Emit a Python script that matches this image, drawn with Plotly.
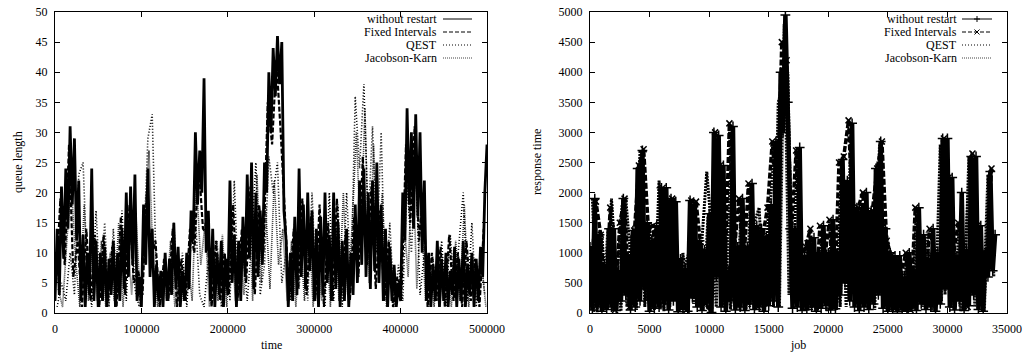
import numpy as np
import plotly.graph_objects as go

# ---------------- left panel: queue length vs time ----------------
q_time_a = np.arange(0, 500001, 2500)          # without restart sampling
q_without = [2, 14, 3, 21, 9, 24, 14, 31, 18, 29, 12, 22, 2, 13, 1, 10, 3, 24, 2, 12,
             1, 10, 2, 11, 1, 9, 3, 12, 1, 10, 2, 14, 4, 20, 6, 21, 8, 23, 2, 6,
             1, 18, 8, 24, 6, 14, 1, 8, 2, 7, 1, 10, 2, 9, 3, 15, 4, 11, 1, 7,
             2, 10, 4, 17, 12, 30, 18, 27, 20, 39, 10, 17, 2, 14, 1, 10, 3, 12, 1, 9,
             3, 22, 5, 13, 1, 12, 2, 16, 6, 23, 9, 25, 4, 20, 6, 17, 8, 25, 20, 40,
             30, 44, 36, 46, 38, 45, 17, 12, 1, 10, 2, 16, 3, 24, 6, 18, 4, 20, 7, 17,
             2, 14, 1, 16, 3, 20, 5, 13, 2, 20, 4, 15, 1, 12, 2, 14, 1, 10, 3, 18,
             5, 22, 8, 24, 6, 20, 4, 22, 7, 25, 5, 18, 2, 14, 1, 11, 2, 8, 1, 5,
             2, 20, 12, 34, 18, 30, 14, 33, 16, 30, 10, 22, 2, 10, 1, 8, 2, 12, 1, 9,
             2, 10, 1, 7, 3, 11, 1, 9, 2, 12, 1, 8, 3, 10, 1, 9, 2, 11, 6, 20, 28]
q_time_b = np.arange(1250, 500000, 5000)
q_fixed = [5, 19, 8, 28, 6, 12, 1, 14, 2, 13, 1, 13, 2, 11, 1, 16, 3, 18, 5, 7,
           3, 20, 9, 12, 1, 9, 2, 14, 1, 9, 2, 14, 10, 25, 14, 13, 1, 12, 2, 10,
           3, 18, 2, 14, 5, 21, 3, 18, 10, 35, 28, 42, 30, 15, 2, 14, 4, 19, 3, 16,
           2, 18, 1, 15, 2, 19, 3, 13, 2, 16, 6, 26, 8, 21, 4, 17, 2, 12, 1, 6,
           4, 28, 15, 31, 12, 20, 1, 10, 2, 11, 1, 13, 2, 10, 1, 12, 2, 9, 1, 14]
q_time_c = np.arange(2500, 500000, 5000)
q_qest = [1, 5, 2, 10, 3, 23, 25, 6, 1, 17, 3, 15, 1, 14, 3, 17, 2, 18, 4, 1,
          10, 29, 33, 5, 2, 8, 3, 15, 2, 10, 1, 12, 16, 3, 1, 9, 2, 12, 1, 9,
          2, 22, 3, 10, 2, 12, 25, 3, 8, 26, 20, 25, 5, 10, 2, 15, 4, 17, 2, 20,
          3, 12, 1, 20, 2, 18, 1, 20, 5, 36, 24, 38, 15, 31, 10, 30, 3, 15, 1, 8,
          2, 22, 10, 25, 3, 10, 1, 9, 2, 12, 1, 13, 3, 11, 20, 2, 15, 1, 10, 3]
q_time_d = np.arange(3750, 500000, 5000)
q_jk = [4, 1, 12, 22, 9, 1, 18, 2, 13, 2, 12, 1, 10, 2, 15, 1, 13, 3, 16, 2,
        14, 27, 8, 1, 7, 2, 12, 1, 8, 2, 9, 2, 22, 8, 15, 1, 10, 2, 13, 1,
        15, 2, 12, 3, 20, 2, 23, 5, 18, 4, 22, 8, 14, 2, 12, 1, 13, 2, 15, 1,
        10, 2, 14, 1, 16, 2, 20, 3, 14, 30, 12, 34, 5, 28, 8, 20, 1, 9, 2, 4,
        16, 6, 28, 4, 18, 2, 8, 1, 10, 2, 8, 1, 12, 2, 18, 1, 9, 2, 8, 1]

# ---------------- right panel: response time vs job ----------------
r_job_a = np.arange(0, 34001, 200)
r_without = [1100, 50, 1900, 100, 1300, 30, 800, 60, 1400, 100, 1400, 40, 700, 200, 1900, 300, 950, 50, 1370, 100,
             2400, 200, 2700, 400, 1500, 30, 1200, 80, 1450, 100, 2080, 150, 2080, 50, 1900, 200, 1850, 20, 900, 60,
             740, 30, 1870, 250, 1800, 100, 1200, 40, 1050, 150, 1650, 10, 3000, 600, 2950, 100, 2450, 30, 700, 200,
             3100, 50, 1100, 100, 1900, 40, 1100, 150, 2150, 60, 1450, 100, 1400, 30, 1280, 120, 1800, 200, 2850, 100,
             4000, 3000, 4950, 3500, 1400, 80, 1400, 100, 2750, 40, 950, 60, 1200, 100, 1250, 30, 1000, 80, 1450, 120,
             1000, 50, 1550, 70, 1000, 300, 2550, 500, 2200, 200, 3150, 100, 1750, 40, 1750, 100, 2000, 60, 1700, 150,
             2400, 300, 2850, 80, 1400, 30, 1000, 60, 950, 20, 950, 50, 600, 30, 1000, 100, 700, 40, 1750, 150,
             1300, 60, 900, 100, 1400, 30, 1000, 150, 2900, 400, 2900, 100, 2250, 50, 950, 200, 2000, 40, 1050, 120,
             2600, 300, 2600, 60, 1450, 30, 1000, 600, 2350, 700, 1300]
r_job_b = np.arange(100, 34000, 400)
r_fixed = [600, 1850, 1300, 200, 1750, 50, 1500, 1900, 100, 1370, 2450, 2720, 1400, 1450, 200, 2080, 1000, 1900, 600, 700,
           50, 1870, 1850, 1100, 150, 40, 3000, 2450, 500, 3150, 1000, 1900, 800, 2150, 1200, 100, 1280, 1750, 2850, 1800,
           4500, 4200, 1300, 2700, 900, 1100, 1400, 150, 1450, 900, 1550, 100, 2500, 2600, 3200, 1300, 1750, 2000, 200, 1700,
           2400, 2850, 1200, 950, 100, 600, 1000, 50, 1750, 1250, 300, 1400, 1000, 200, 2900, 2250, 950, 1500, 1000, 100,
           2650, 1450, 1000, 800, 2400]
r_job_c = np.arange(200, 34000, 400)
r_qest = [1900, 10, 1300, 100, 1900, 700, 30, 1900, 950, 300, 2700, 100, 1500, 50, 2200, 30, 1000, 1900, 50, 1000,
          100, 1870, 100, 1200, 2350, 1400, 100, 2450, 1000, 60, 1100, 50, 1100, 100, 1500, 1750, 40, 1800, 100, 3500,
          3800, 4000, 100, 2750, 100, 1200, 50, 1000, 100, 1000, 100, 1000, 100, 2200, 300, 1750, 50, 1800, 100, 1600,
          300, 1500, 1200, 30, 950, 60, 1000, 100, 1700, 900, 50, 1000, 100, 2800, 300, 2200, 100, 1500, 100, 2600,
          300, 1400, 30, 2300, 1000]
r_job_d = np.arange(300, 34000, 400)
r_jk = [20, 1300, 60, 1400, 30, 700, 1800, 100, 1300, 50, 2600, 200, 1200, 1400, 60, 2000, 100, 1850, 40, 740,
        1000, 150, 1150, 50, 1600, 400, 2900, 100, 700, 3000, 100, 1800, 60, 2100, 100, 1250, 100, 1700, 2800, 100,
        4800, 300, 1400, 200, 950, 40, 1250, 50, 1400, 30, 1500, 50, 2500, 100, 3000, 200, 1700, 100, 1650, 50,
        2800, 100, 1000, 50, 900, 30, 950, 60, 1300, 100, 1350, 40, 1000, 200, 2850, 80, 950, 30, 1050, 2500,
        100, 1400, 40, 2300, 600]

series_names = ["without restart", "Fixed Intervals", "QEST", "Jacobson-Karn"]
left_ticks_x = [0, 100000, 200000, 300000, 400000, 500000]
right_ticks_x = [0, 5000, 10000, 15000, 20000, 25000, 30000, 35000]

W, H = 1036, 353
FONT = "Liberation Serif, Times New Roman, serif"


def px(x):
    return x / W


def py(y):
    return 1 - y / H


left_styles = [
    dict(color="black", width=2.8, dash="solid"),
    dict(color="black", width=2.2, dash="5px,2px"),
    dict(color="black", width=1.6, dash="1px,2px"),
    dict(color="#333333", width=1.6, dash="1px,1px"),
]
right_styles = [
    dict(color="black", width=4.5, dash="solid"),
    dict(color="black", width=3.5, dash="6px,2px"),
    dict(color="black", width=3.0, dash="2px,1px"),
    dict(color="#111111", width=3.0, dash="2px,1px"),
]

fig = go.Figure()
left_data = [(q_time_a, q_without), (q_time_b, q_fixed), (q_time_c, q_qest), (q_time_d, q_jk)]
right_data = [(r_job_a, r_without), (r_job_b, r_fixed), (r_job_c, r_qest), (r_job_d, r_jk)]

# draw in reverse order so the solid line is on top
for k in [3, 2, 1, 0]:
    xs, ys = left_data[k]
    fig.add_trace(go.Scatter(x=xs, y=ys, mode="lines", name=series_names[k],
                             line=left_styles[k], xaxis="x", yaxis="y", showlegend=False))
for k in [3, 2, 1, 0]:
    xs, ys = right_data[k]
    tr = dict(x=xs, y=ys, name=series_names[k], line=right_styles[k],
              xaxis="x2", yaxis="y2", showlegend=False)
    if k == 0:
        tr.update(mode="lines+markers",
                  marker=dict(symbol="cross-thin", size=7, line=dict(width=1.5, color="black")))
    elif k == 1:
        tr.update(mode="lines+markers",
                  marker=dict(symbol="x-thin", size=6, line=dict(width=1.5, color="black")))
    else:
        tr.update(mode="lines")
    fig.add_trace(go.Scatter(**tr))

axis_common = dict(showline=True, linecolor="black", linewidth=1, mirror="ticks",
                   ticks="inside", ticklen=5, tickcolor="black", tickwidth=1,
                   showgrid=False, zeroline=False, automargin=False,
                   tickfont=dict(family=FONT, size=12, color="black"))

fig.update_layout(
    template="none",
    width=W, height=H,
    margin=dict(l=0, r=0, t=0, b=0, pad=0),
    paper_bgcolor="white", plot_bgcolor="white",
    font=dict(family=FONT, size=12, color="black"),
    xaxis=dict(domain=[px(55), px(487)], range=[0, 500000], tickvals=left_ticks_x,
               ticktext=[str(v) for v in left_ticks_x], anchor="y",
               ticklabelstandoff=5, **axis_common),
    yaxis=dict(domain=[py(313), py(12)], range=[0, 50], dtick=5, anchor="x",
               ticklabelstandoff=4, **axis_common),
    xaxis2=dict(domain=[px(590), px(1007)], range=[0, 35000], tickvals=right_ticks_x,
                ticktext=[str(v) for v in right_ticks_x], anchor="y2",
                ticklabelstandoff=5, **axis_common),
    yaxis2=dict(domain=[py(313), py(12)], range=[0, 5000], dtick=500, anchor="x2",
                ticklabelstandoff=4, **axis_common),
)

annotations = [
    dict(text="queue length", x=px(18), y=py(162), textangle=-90),
    dict(text="time", x=px(271), y=py(345)),
    dict(text="response time", x=px(537), y=py(162), textangle=-90),
    dict(text="job", x=px(798), y=py(345)),
]
shapes = []
row_y = [19, 32, 45, 58]
legend_dash = ["solid", "4px,2px", "1px,2px", "1px,1px"]
legend_col = ["black", "black", "black", "#444444"]
for (text_right, line_x0, line_x1, has_markers) in [(438, 443, 472, False), (958, 962, 992, True)]:
    for k, name in enumerate(series_names):
        annotations.append(dict(text=name, x=px(text_right), y=py(row_y[k]),
                                xanchor="right"))
        shapes.append(dict(type="line", xref="paper", yref="paper",
                           x0=px(line_x0), x1=px(line_x1), y0=py(row_y[k]), y1=py(row_y[k]),
                           line=dict(color=legend_col[k], width=1, dash=legend_dash[k])))
        if has_markers and k < 2:
            cx = (line_x0 + line_x1) / 2
            cy = row_y[k]
            if k == 0:
                segs = [(cx - 3, cy, cx + 3, cy), (cx, cy - 3, cx, cy + 3)]
            else:
                segs = [(cx - 2.5, cy - 2.5, cx + 2.5, cy + 2.5), (cx - 2.5, cy + 2.5, cx + 2.5, cy - 2.5)]
            for (a, b, c, d) in segs:
                shapes.append(dict(type="line", xref="paper", yref="paper",
                                   x0=px(a), y0=py(b), x1=px(c), y1=py(d),
                                   line=dict(color="black", width=1)))

for a in annotations:
    a.update(xref="paper", yref="paper", showarrow=False, borderpad=0,
             font=dict(family=FONT, size=12, color="black"))
    a.setdefault("xanchor", "center")
    a.setdefault("yanchor", "middle")

fig.update_layout(annotations=annotations, shapes=shapes)
fig.write_html("out.html")
